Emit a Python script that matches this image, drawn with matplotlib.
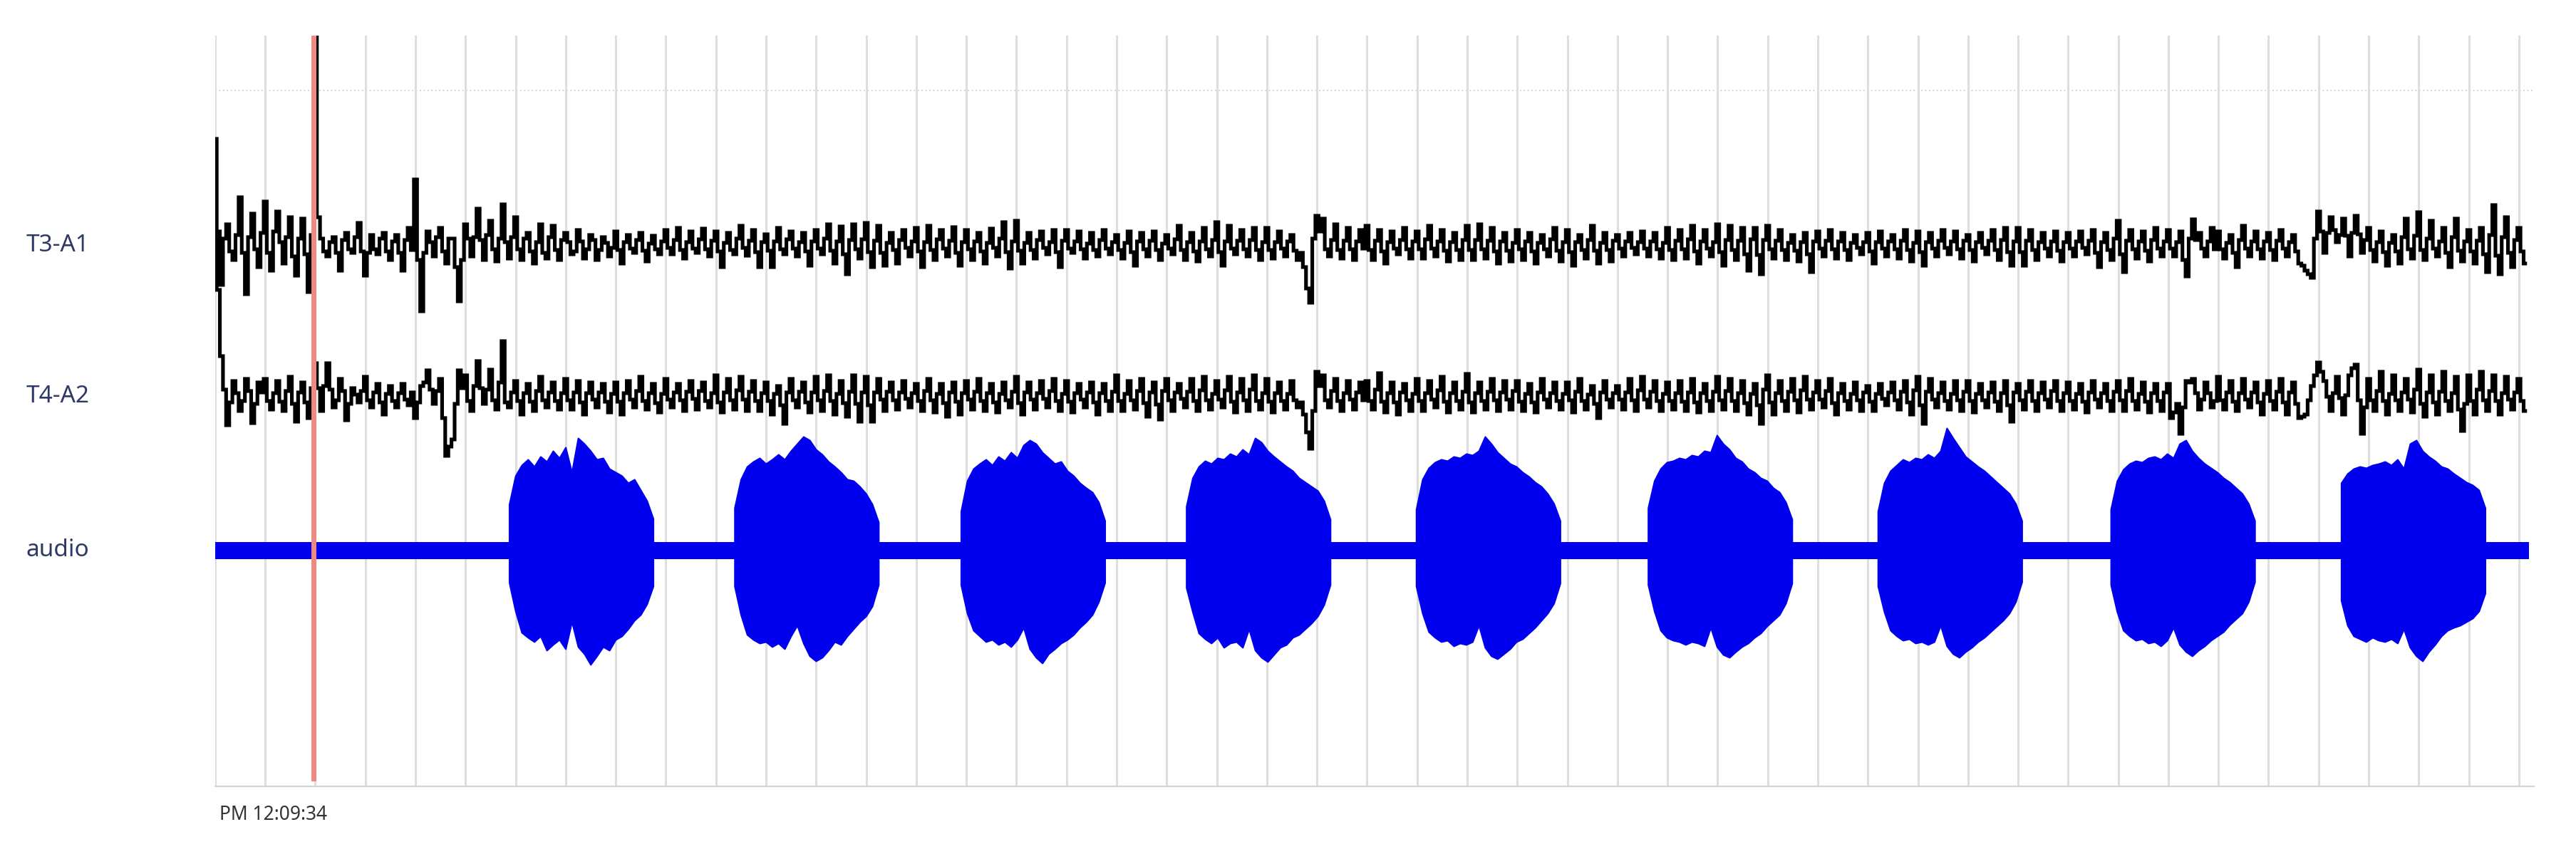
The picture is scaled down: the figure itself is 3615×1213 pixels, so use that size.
import numpy as np
import matplotlib
matplotlib.use("Agg")
import matplotlib.pyplot as plt
import matplotlib.transforms as mtransforms

# ---- data (amplitudes in screen-px units, + is up) ----
channel_names = ["T3-A1", "T4-A2", "audio"]
time_label = "PM 12:09:34"
samples_per_div = 8          # extreme samples per grid division
n_divs = 46
marker_pos = 1.96            # red cursor, in grid divisions

# T3-A1 extremes, one row per grid division
t3_peaks = [
    150, -55, 30, -20, 68, -68, 45, -30,
    62, -35, 48, -25, 40, -42, 38, -65,
    300, 10, -15, 12, -35, 18, -10, 32,
    -42, 15, -12, 18, -20, 15, -35, 25,
    93, -92, 20, -15, 25, -25, 10, -78,
    30, -15, 52, -20, 35, -22, 58, -18,
    40, -20, 18, -25, 30, -18, 28, -20,
    18, -12, 22, -18, 15, -20, 12, -15,
    20, -25, 15, -10, 18, -22, 14, -12,
    22, -12, 25, -18, 20, -10, 24, -15,
    20, -30, 18, -12, 28, -14, 22, -30,
    16, -30, 25, -12, 20, -15, 18, -28,
    22, -12, 30, -25, 27, -40, 30, -18,
    32, -30, 28, -28, 18, -25, 22, -15,
    25, -30, 28, -20, 22, -15, 26, -28,
    22, -20, 18, -25, 24, -15, 33, -32,
    35, -25, 18, -18, 20, -12, 22, -30,
    22, -10, 20, -18, 18, -15, 22, -12,
    15, -18, 20, -28, 18, -15, 20, -20,
    15, -12, 28, -20, 18, -22, 25, -15,
    33, -28, 28, -12, 22, -15, 25, -20,
    25, -18, 20, -15, 15, -20, -30, -80,
    42, 38, -15, 30, -18, 25, -20, 22,
    28, -20, 22, -25, 20, -12, 25, -18,
    20, -18, 28, -15, 22, -22, 18, -20,
    28, -20, 30, -18, 25, -25, 18, -22,
    22, -20, 18, -25, 15, -15, 25, -22,
    22, -28, 15, -18, 28, -25, 18, -22,
    15, -15, 18, -12, 20, -15, 18, -18,
    25, -20, 22, -18, 28, -25, 22, -15,
    30, -28, 28, -20, 25, -35, 25, -40,
    28, -18, 22, -20, 15, -22, 18, -37,
    20, -15, 22, -18, 18, -20, 15, -12,
    18, -25, 20, -15, 15, -18, 22, -22,
    20, -28, 18, -15, 22, -12, 20, -18,
    15, -22, 18, -12, 22, -20, 25, -28,
    25, -28, 22, -20, 18, -15, 20, -22,
    18, -15, 20, -12, 22, -30, 18, -20,
    35, -37, 22, -18, 20, -22, 25, -15,
    22, -15, 20, -43, 37, 18, -15, 25,
    20, -18, 15, -30, 28, -15, 20, -18,
    18, -20, 22, -15, 15, -25, -35, -45,
    48, -10, 40, 5, 38, -15, 42, -10,
    25, -22, 20, -28, 15, -25, 38, -18,
    47, -20, 35, -15, 25, -30, 38, -22,
    22, -25, 25, -37, 57, -40, 40, -30,
    25, -25,
]
# T3-A1 samples lying between the extremes
t3_between = [
    20, 10, -8, 15, -10, 12, -5, 18,
    -10, 20, 5, 12, -15, 10, -12, 15,
    40, -8, 5, -10, 8, -5, 12, -8,
    -10, -5, 10, -8, 6, -10, 8, -6,
    -20, -10, 5, 12, -8, 10, -30, -20,
    10, 12, 8, 15, -5, 10, 5, 12,
    -5, 10, -8, 5, -10, 12, -6, 8,
    5, -8, 6, -5, 8, -6, 4, -3,
    -6, 5, -4, 8, -7, 3, -5, 6,
    -3, 8, -6, 5, -4, 9, -5, 7,
    -8, 4, -6, 10, -3, 7, -9, 5,
    -7, 6, -5, 9, -4, 5, -8, 6,
    -4, 10, -7, 6, -12, 8, -5, 9,
    -9, 7, -10, 4, -6, 8, -3, 6,
    -8, 5, -6, 9, -4, 7, -10, 5,
    -5, 6, -8, 4, -3, 10, -9, 6,
    -7, 4, -6, 8, -3, 5, -9, 7,
    -4, 6, -5, 3, -6, 8, -4, 5,
    -6, 4, -9, 6, -5, 7, -6, 3,
    -4, 9, -6, 5, -8, 6, -5, 8,
    -9, 6, -4, 7, -5, 8, -6, 5,
    -6, 5, -4, 6, -7, -10, -60, 10,
    20, -5, 8, -6, 7, -5, 6, -4,
    -6, 7, -8, 5, -4, 8, -5, 6,
    -5, 9, -4, 6, -7, 5, -6, 8,
    -6, 8, -5, 7, -8, 6, -7, 4,
    -5, 6, -8, 4, -5, 9, -7, 5,
    -9, 5, -6, 8, -7, 4, -6, 7,
    -4, 6, -3, 5, -4, 6, -5, 4,
    -6, 7, -5, 9, -8, 6, -4, 5,
    -9, 8, -6, 7, -12, 9, -13, 8,
    -5, 7, -6, 4, -7, 5, -12, 6,
    -4, 7, -5, 6, -6, 4, -3, 5,
    -8, 5, -4, 6, -5, 7, -6, 4,
    -9, 5, -4, 7, -3, 6, -5, 7,
    -6, 5, -3, 7, -6, 8, -9, 6,
    -9, 7, -6, 5, -4, 6, -7, 5,
    -4, 6, -3, 7, -10, 5, -6, 10,
    -12, 7, -5, 6, -7, 8, -4, 6,
    -4, 5, -20, 10, 8, -4, 6, -5,
    -5, 4, -10, 8, -4, 6, -5, 6,
    -6, 7, -4, 5, -8, -28, -40, 10,
    20, 18, 22, 15, 14, 18, 16, 8,
    -6, 5, -9, 4, -8, 12, -5, 14,
    -6, 10, -4, 6, -10, 12, -7, 6,
    -8, 7, -12, 15, -14, 12, -10, 8,
    -8,
]

# T4-A2 extremes
t4_peaks = [
    230, 57, -40, 22, -20, 25, -37, 20,
    25, -18, 22, -20, 28, -35, 20, -30,
    47, -20, 47, -15, 25, -33, 12, -8,
    28, -15, 18, -25, 15, -15, 18, -12,
    -30, 15, 37, -10, 25, -83, -60, 37,
    30, -20, 50, -10, 38, -18, 78, -15,
    22, -25, 18, -20, 28, -15, 20, -18,
    25, -18, 22, -25, 20, -15, 18, -22,
    20, -25, 22, -15, 28, -18, 18, -22,
    25, -15, 18, -20, 22, -18, 20, -15,
    30, -22, 25, -18, 28, -20, 22, -20,
    20, -25, 15, -38, 25, -15, 20, -22,
    28, -20, 30, -25, 22, -28, 30, -35,
    28, -35, 25, -20, 20, -18, 22, -15,
    18, -20, 25, -22, 18, -28, 20, -25,
    22, -18, 25, -20, 18, -22, 20, -15,
    28, -25, 20, -18, 22, -15, 25, -20,
    22, -22, 18, -15, 20, -25, 18, -20,
    30, -20, 22, -18, 25, -28, 20, -32,
    25, -20, 18, -15, 25, -20, 28, -18,
    22, -15, 28, -22, 25, -20, 30, -18,
    25, -22, 20, -18, 22, -15, -25, -73,
    35, 30, -15, 25, -20, 22, -18, 20,
    22, -18, 33, -22, 20, -25, 18, -20,
    25, -20, 22, -15, 28, -22, 20, -18,
    32, -22, 20, -18, 25, -20, 22, -18,
    22, -20, 18, -22, 25, -15, 20, -18,
    20, -22, 25, -18, 15, -30, 22, -15,
    15, -18, 25, -20, 28, -15, 22, -20,
    20, -18, 22, -20, 25, -22, 18, -20,
    28, -18, 25, -20, 22, -25, 18, -38,
    30, -25, 22, -20, 25, -22, 28, -18,
    22, -15, 25, -25, 18, -18, 20, -20,
    15, -20, 18, -12, 20, -18, 22, -25,
    28, -38, 25, -15, 20, -18, 22, -20,
    22, -22, 18, -15, 20, -20, 22, -35,
    18, -18, 22, -20, 20, -15, 22, -20,
    20, -18, 18, -22, 22, -15, 18, -20,
    22, -20, 25, -18, 20, -22, 18, -20,
    18, -22, -52, 22, 25, -18, 20, -15,
    28, -18, 22, -20, 25, -15, 20, -25,
    22, -18, 25, -25, 20, -30, -25, 15,
    48, 22, -20, 28, -25, 30, 45, -52,
    25, -20, 35, -25, 30, -20, 25, -22,
    38, -28, 30, -25, 35, -20, 28, -48,
    30, -25, 35, -20, 30, -25, 28, -18,
    25, -20,
]
t4_between = [
    150, 10, -8, 5, -6, 8, -10, 6,
    -6, 5, -7, 8, -10, 6, -8, 12,
    12, 15, 10, -5, 8, -10, 3, 8,
    -5, 6, -8, 4, -6, 5, -4, 6,
    -8, 20, 10, 8, -30, -70, -10, 12,
    -6, 15, 12, 10, -5, 20, -8, 6,
    -6, 5, -7, 8, -5, 6, -6, 5,
    -5, 6, -8, 5, -4, 6, -7, 4,
    -7, 5, -4, 8, -6, 5, -9, 4,
    -4, 6, -5, 7, -3, 8, -6, 5,
    -8, 6, -5, 9, -4, 7, -6, 5,
    -6, 4, -12, 6, -5, 7, -8, 6,
    -5, 8, -6, 4, -9, 7, -10, 6,
    -12, 6, -4, 7, -5, 6, -3, 5,
    -6, 8, -5, 4, -9, 6, -7, 5,
    -4, 7, -6, 5, -8, 4, -5, 7,
    -9, 6, -4, 5, -3, 8, -6, 4,
    -7, 5, -4, 6, -8, 5, -6, 7,
    -6, 4, -5, 8, -9, 6, -11, 8,
    -5, 6, -3, 7, -6, 9, -5, 4,
    -4, 9, -7, 6, -5, 10, -6, 5,
    -7, 5, -6, 4, -5, -8, -50, -20,
    15, -5, 8, -6, 5, -4, 6, -5,
    -6, 10, -7, 5, -8, 6, -5, 4,
    -6, 5, -4, 9, -7, 5, -6, 7,
    -8, 5, -6, 7, -5, 6, -4, 8,
    -7, 4, -8, 6, -4, 5, -6, 4,
    -5, 7, -6, 3, -10, 6, -4, 5,
    -4, 6, -5, 9, -4, 7, -6, 4,
    -6, 5, -7, 6, -8, 5, -6, 7,
    -5, 8, -6, 5, -9, 4, -12, 10,
    -8, 5, -6, 7, -5, 9, -4, 6,
    -4, 8, -9, 5, -6, 4, -5, 6,
    -7, 4, -3, 6, -5, 7, -8, 9,
    -12, 7, -4, 5, -6, 4, -5, 7,
    -6, 4, -5, 6, -7, 5, -12, 6,
    -5, 7, -6, 5, -4, 8, -6, 5,
    -6, 4, -7, 6, -4, 5, -6, 7,
    -5, 8, -6, 4, -7, 5, -6, 6,
    -30, -10, -15, 20, 5, -4, 5, -6,
    -5, 6, -7, 5, -4, 6, -8, 4,
    -6, 7, -8, 6, -10, -28, -5, 30,
    35, 0, 5, -2, 2, 40, -5, -15,
    -5, 8, -6, 4, -5, 6, -4, 10,
    -10, 6, -8, 7, -6, 5, -18, -10,
    -6, 10, -5, 8, -6, 5, -4, 6,
    -6,
]

# audio: quiet-level half width and the nine tone bursts
audio_quiet = 12
burst_start = [5.87, 10.37, 14.89, 19.39, 23.98, 28.61, 33.20, 37.85, 42.45]
burst_upper = [
    [65, 105, 120, 128, 118, 132, 125, 140, 130, 145, 110, 158, 150, 140, 128, 130, 115, 110, 105, 95, 100, 85, 70, 45],
    [60, 100, 118, 125, 130, 122, 128, 135, 128, 140, 150, 160, 155, 142, 135, 125, 118, 110, 100, 98, 90, 80, 65, 40],
    [55, 98, 115, 122, 128, 120, 132, 126, 138, 130, 148, 155, 150, 138, 130, 122, 125, 112, 105, 95, 88, 82, 68, 42],
    [62, 102, 118, 126, 122, 130, 128, 136, 132, 142, 135, 158, 152, 140, 132, 125, 118, 112, 102, 96, 90, 84, 70, 44],
    [58, 100, 116, 124, 128, 126, 132, 130, 136, 134, 140, 160, 150, 138, 130, 122, 118, 110, 104, 96, 90, 80, 66, 42],
    [60, 98, 115, 124, 126, 130, 128, 134, 132, 140, 138, 162, 150, 142, 130, 125, 115, 110, 102, 98, 88, 82, 68, 44],
    [55, 95, 112, 120, 128, 124, 130, 128, 135, 130, 140, 172, 158, 145, 132, 125, 118, 112, 104, 96, 88, 80, 66, 42],
    [58, 98, 114, 122, 126, 124, 130, 132, 128, 136, 130, 150, 155, 140, 130, 122, 116, 110, 102, 96, 88, 80, 66, 42],
    [95, 108, 115, 118, 116, 120, 122, 125, 120, 128, 115, 150, 155, 140, 132, 126, 118, 115, 108, 102, 96, 92, 85, 60],
]
burst_lower = [
    [-45, -85, -115, -122, -128, -120, -140, -132, -125, -138, -100, -135, -145, -160, -148, -135, -140, -125, -120, -110, -98, -90, -75, -50],
    [-50, -90, -118, -125, -130, -128, -135, -130, -138, -120, -105, -130, -148, -155, -150, -140, -128, -132, -120, -110, -100, -92, -78, -48],
    [-48, -88, -112, -120, -128, -125, -132, -128, -135, -125, -108, -138, -150, -158, -145, -138, -130, -125, -118, -108, -100, -90, -72, -45],
    [-52, -86, -116, -124, -130, -122, -136, -130, -128, -136, -110, -140, -150, -156, -146, -136, -132, -122, -118, -110, -102, -92, -76, -48],
    [-50, -88, -114, -122, -128, -126, -134, -130, -132, -128, -105, -136, -148, -152, -145, -138, -128, -124, -116, -108, -98, -88, -74, -46],
    [-48, -85, -112, -122, -126, -128, -132, -128, -130, -134, -108, -135, -146, -150, -142, -135, -130, -122, -116, -106, -98, -90, -74, -46],
    [-50, -86, -112, -120, -126, -124, -130, -128, -132, -128, -105, -134, -145, -150, -142, -136, -128, -122, -114, -106, -98, -88, -72, -44],
    [-48, -86, -112, -120, -126, -124, -130, -128, -134, -126, -108, -132, -142, -148, -140, -134, -126, -120, -114, -104, -96, -88, -72, -44],
    [-70, -105, -120, -124, -128, -122, -126, -128, -124, -130, -110, -136, -148, -155, -142, -132, -120, -112, -108, -105, -100, -95, -85, -60],
]

# ---- layout ----
offsets = [759, 547, 331]    # channel baselines on the y axis
ref_line = 977
label_color = "#2e3a66"


def interleave(peaks, between):
    # extremes at whole steps, in-between samples at half steps
    step = 1.0 / samples_per_div
    xs, ys = [], []
    for k, v in enumerate(peaks):
        xs.append(k * step)
        ys.append(v)
        if k < len(between):
            xs.append((k + 0.5) * step)
            ys.append(between[k])
    return np.array(xs), np.array(ys)


fig = plt.figure(figsize=(36.16, 12.13), dpi=100)
ax = fig.add_axes([0.0835, 0.0899, 0.8999, 0.8689])
ax.set_xlim(0, 46.3)
ax.set_ylim(0, 1054)

ax.set_xticks(np.arange(0, n_divs + 1))
ax.set_yticks([])
ax.tick_params(axis="x", length=0, labelbottom=False)
ax.grid(axis="x", color="#dedede", lw=2.2, zorder=0)
for s in ["left", "right", "top"]:
    ax.spines[s].set_visible(False)
ax.spines["bottom"].set_color("#d4d4d4")
ax.spines["bottom"].set_linewidth(1.5)

ax.axhline(ref_line, color="#cfcfcf", lw=1.3, ls=(0, (1, 2)), zorder=1)
ax.axvline(marker_pos, ymin=0.01, ymax=1, color="#f08a80", lw=5, zorder=5)

for peaks, between, off in [(t3_peaks, t3_between, offsets[0]),
                            (t4_peaks, t4_between, offsets[1])]:
    xs, ys = interleave(peaks, between)
    ax.plot(xs, ys + off, color="black", lw=3.7, drawstyle="steps-mid",
            solid_joinstyle="miter", zorder=4)

# audio quiet band + bursts
blue = "#0000ee"
step = 1.0 / samples_per_div
ax.fill_between([0, 46.2], offsets[2] - audio_quiet, offsets[2] + audio_quiet,
                color=blue, lw=0, zorder=3)
for b0, up, lo in zip(burst_start, burst_upper, burst_lower):
    xb = b0 + np.arange(len(up)) * step
    ax.fill_between(xb, np.array(lo) + offsets[2], np.array(up) + offsets[2],
                    color=blue, lw=1.5, edgecolor=blue, zorder=3)

# channel labels at the left
trans = mtransforms.blended_transform_factory(fig.transFigure, ax.transData)
for name, off in zip(channel_names, offsets):
    ax.text(0.0102, off, name, transform=trans, ha="left", va="center",
            fontsize=24, color=label_color, family="Noto Sans")

fig.text(308 / 3616, 1 - 1144 / 1213, time_label, ha="left", va="center",
         fontsize=19, color="#333333", family="Noto Sans")

fig.savefig("out.png", dpi=100, facecolor="white")
